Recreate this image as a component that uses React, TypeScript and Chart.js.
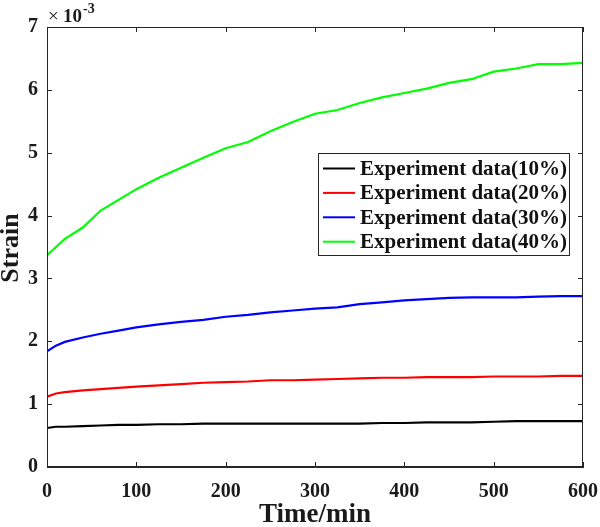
import React, { useEffect, useRef } from "react";
import { Chart, registerables } from "chart.js";

Chart.register(...registerables);

const timeMin = [0, 10, 20, 40, 60, 80, 100, 125, 150, 175, 200, 225, 250, 275, 300, 325, 350, 375, 400, 425, 450, 475, 500, 525, 550, 575, 600];

const strain10 = [0.62, 0.64, 0.64, 0.65, 0.66, 0.67, 0.67, 0.68, 0.68, 0.69, 0.69, 0.69, 0.69, 0.69, 0.69, 0.69, 0.69, 0.70, 0.70, 0.71, 0.71, 0.71, 0.72, 0.73, 0.73, 0.73, 0.73];
const strain20 = [1.12, 1.17, 1.19, 1.22, 1.24, 1.26, 1.28, 1.30, 1.32, 1.34, 1.35, 1.36, 1.38, 1.38, 1.39, 1.40, 1.41, 1.42, 1.42, 1.43, 1.43, 1.43, 1.44, 1.44, 1.44, 1.45, 1.45];
const strain30 = [1.84, 1.93, 1.99, 2.06, 2.12, 2.17, 2.22, 2.27, 2.31, 2.34, 2.39, 2.42, 2.46, 2.49, 2.52, 2.54, 2.59, 2.62, 2.65, 2.67, 2.69, 2.70, 2.70, 2.70, 2.71, 2.72, 2.72];
const strain40 = [3.37, 3.50, 3.63, 3.81, 4.08, 4.25, 4.42, 4.60, 4.76, 4.92, 5.07, 5.17, 5.34, 5.49, 5.62, 5.68, 5.79, 5.88, 5.95, 6.02, 6.11, 6.17, 6.29, 6.34, 6.41, 6.41, 6.43];

const seriesLabels = ["Experiment data(10%)", "Experiment data(20%)", "Experiment data(30%)", "Experiment data(40%)"];
const seriesColors = ["#000000", "#ff0000", "#0000ff", "#00ff00"];
const seriesValues = [strain10, strain20, strain30, strain40];

const xTicks = [0, 100, 200, 300, 400, 500, 600];
const yTicks = [0, 1, 2, 3, 4, 5, 6, 7];
const xTitle = "Time/min";
const yTitle = "Strain";
const yExponent = "-3";

const FONT = "'Liberation Serif', 'Times New Roman', serif";
const AXIS_COLOR = "#262626";

const decorPlugin = {
  id: "decor",
  afterDraw(chart: any) {
    const { ctx, chartArea } = chart;
    const { left, right, top, bottom } = chartArea;
    const xs = chart.scales.x;
    const ys = chart.scales.y;
    ctx.save();
    // frame
    ctx.strokeStyle = AXIS_COLOR;
    ctx.lineWidth = 1;
    ctx.strokeRect(left + 0.5, top + 0.5, right - left - 1, bottom - top - 1);
    // inward ticks
    const tl = 5;
    ctx.beginPath();
    xTicks.forEach((v) => {
      const px = Math.round(xs.getPixelForValue(v)) + 0.5;
      ctx.moveTo(px, bottom);
      ctx.lineTo(px, bottom - tl);
      ctx.moveTo(px, top);
      ctx.lineTo(px, top + tl);
    });
    yTicks.forEach((v) => {
      const py = Math.round(ys.getPixelForValue(v)) + 0.5;
      ctx.moveTo(left, py);
      ctx.lineTo(left + tl, py);
      ctx.moveTo(right, py);
      ctx.lineTo(right - tl, py);
    });
    ctx.stroke();

    // exponent label
    ctx.fillStyle = "#1a1a1a";
    ctx.textBaseline = "alphabetic";
    ctx.textAlign = "left";
    ctx.font = `19px ${FONT}`;
    ctx.fillText("\u00d7", left + 1, 22);
    ctx.font = `bold 19px ${FONT}`;
    ctx.fillText("10", left + 16, 22);
    ctx.font = `bold 14px ${FONT}`;
    ctx.fillText(yExponent, left + 36, 13);

    // axis titles
    ctx.font = `bold 27px ${FONT}`;
    ctx.textAlign = "center";
    ctx.textBaseline = "middle";
    ctx.fillText(xTitle, (left + right) / 2, 515);
    ctx.font = `bold 26px ${FONT}`;
    ctx.save();
    ctx.translate(11, (top + bottom) / 2 + 1);
    ctx.rotate(-Math.PI / 2);
    ctx.fillText(yTitle, 0, 0);
    ctx.restore();

    // legend
    const lx = 318.5, ly = 153.5, lw = 251, lh = 102;
    ctx.fillStyle = "#ffffff";
    ctx.fillRect(lx, ly, lw, lh);
    ctx.strokeStyle = AXIS_COLOR;
    ctx.lineWidth = 1;
    ctx.strokeRect(lx, ly, lw, lh);
    ctx.font = `bold 21px ${FONT}`;
    ctx.textAlign = "left";
    ctx.textBaseline = "middle";
    chart.data.datasets.forEach((ds: any, i: number) => {
      const cy = 168.5 + i * 24.4;
      ctx.strokeStyle = ds.borderColor;
      ctx.lineWidth = 2;
      ctx.beginPath();
      ctx.moveTo(323, cy);
      ctx.lineTo(355, cy);
      ctx.stroke();
      ctx.fillStyle = "#111111";
      ctx.fillText(ds.label, 360, cy + 1);
    });
    ctx.restore();
  },
};

export default function App() {
  const canvasRef = useRef<HTMLCanvasElement | null>(null);

  useEffect(() => {
    document.body.style.margin = "0";
    const canvas = canvasRef.current;
    if (!canvas) return;
    const zeroPad = (s: any) => {
      s.paddingLeft = 0;
      s.paddingRight = 0;
      s.paddingTop = 0;
      s.paddingBottom = 0;
    };
    const chart = new Chart(canvas, {
      type: "line",
      data: {
        datasets: seriesValues.map((vals, i) => ({
          label: seriesLabels[i],
          data: timeMin.map((t, j) => ({ x: t, y: vals[j] })),
          borderColor: seriesColors[i],
          backgroundColor: seriesColors[i],
          borderWidth: 2.2,
          pointRadius: 0,
          tension: 0,
          fill: false,
        })),
      },
      options: {
        responsive: false,
        animation: false,
        maintainAspectRatio: false,
        layout: { padding: { top: 27, right: 17, left: 0, bottom: 0 } },
        plugins: {
          legend: { display: false },
          tooltip: { enabled: false },
        },
        scales: {
          x: {
            type: "linear",
            min: 0,
            max: 600,
            afterBuildTicks: (s: any) => {
              s.ticks = xTicks.map((v) => ({ value: v }));
            },
            afterFit: (s: any) => {
              s.height = 60;
              zeroPad(s);
            },
            ticks: {
              color: "#1a1a1a",
              font: { family: FONT, size: 20, weight: "bold" },
              padding: 13,
              maxRotation: 0,
            },
            grid: { display: false, drawTicks: false },
            border: { display: true, color: AXIS_COLOR, width: 1 },
          },
          y: {
            type: "linear",
            min: 0,
            max: 7,
            afterBuildTicks: (s: any) => {
              s.ticks = yTicks.map((v) => ({ value: v }));
            },
            afterFit: (s: any) => {
              s.width = 47;
              zeroPad(s);
            },
            ticks: {
              color: "#1a1a1a",
              font: { family: FONT, size: 20, weight: "bold" },
              padding: 9,
            },
            grid: { display: false, drawTicks: false },
            border: { display: true, color: AXIS_COLOR, width: 1 },
          },
        },
      },
      plugins: [decorPlugin],
    });
    return () => chart.destroy();
  }, []);

  return (
    <div style={{ position: "absolute", left: 0, top: 0, width: 600, height: 527, background: "#fff" }}>
      <canvas ref={canvasRef} width={600} height={527} style={{ width: 600, height: 527 }} />
    </div>
  );
}
